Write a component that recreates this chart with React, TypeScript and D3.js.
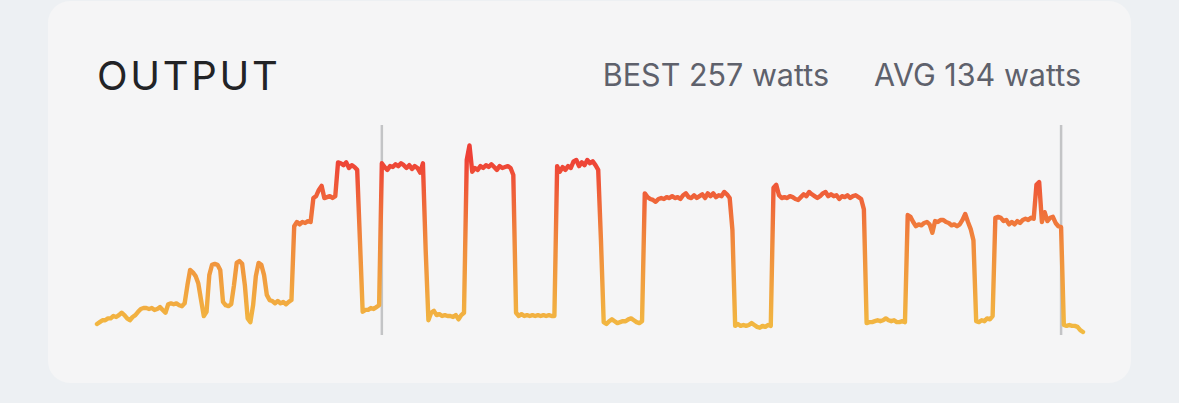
import React from "react";
import * as d3 from "d3";

// Power samples, one every 10 seconds (watts)
const sampleSeconds = 10;
const power: number[] = [
  67, 69, 71, 71, 73, 73, 75.5, 74.5, 76.5, 79,
  76.5, 73, 71, 74.5, 76.5, 80, 83, 84, 84, 83,
  84, 82, 83, 85, 82, 79, 88, 89, 88, 89,
  87, 86, 89, 108, 124.5, 122, 118, 110, 92.5, 75.5,
  80, 119, 130, 131, 130, 124.5, 90.5, 87, 86, 88,
  108, 132, 134, 131, 108, 73, 69, 87, 118, 132,
  130, 119, 98, 92.5, 91.5, 89, 91.5, 89, 90.5, 88,
  90.5, 92.5, 171, 175.5, 173, 175.5, 174.5, 176.5, 175.5, 201,
  203, 209.6, 214, 201, 202, 203, 201, 203, 239, 238,
  236, 239, 233, 236, 234, 231, 156, 80, 82, 82,
  84, 83, 85, 87, 238, 234, 231, 235, 234, 237,
  235, 238, 236, 233, 236, 232, 235, 233, 228, 238,
  146, 71, 79, 81, 76.5, 77.5, 75.5, 76.5, 75.5, 75.5,
  74.5, 76.5, 72, 76.5, 79, 241.5, 257, 229, 233, 231,
  235, 233, 236, 234, 237, 234, 231, 235, 233, 234,
  235, 233, 225.5, 79, 75.5, 77.5, 75.5, 76.5, 75.5, 76.5,
  75.5, 76.5, 75.5, 76.5, 75.5, 76.5, 75.5, 75.5, 235, 229,
  234, 231, 235, 233, 240, 241.5, 235, 239, 236, 241.5,
  238, 240, 236, 231, 156, 69, 67, 70, 72, 70,
  68, 69, 70, 70, 72, 73, 71, 69, 68, 70,
  206, 202, 200, 199, 197, 200, 201, 200, 202, 201,
  203, 201, 202, 200, 204, 206, 202, 201, 204, 201,
  203, 205, 201, 206, 203, 206, 202, 204, 203, 207.5,
  205, 201, 167, 65, 67, 65, 66, 65, 66, 68,
  66, 64, 63, 65, 64, 66, 65, 212, 215, 204,
  201, 202, 201, 203, 202, 200, 199, 202, 205, 203,
  207.5, 205, 203, 201, 203, 206, 207.5, 203, 205, 203,
  204, 200, 203, 202, 204, 201, 203, 204, 202, 200,
  189, 68, 69, 69, 70, 71, 70, 71, 73, 71,
  70, 71, 69, 69, 70, 69, 183, 181, 175.5, 171,
  173, 172, 174.5, 175.5, 173, 164, 176.5, 175.5, 177.7, 177.7,
  175.5, 174.5, 172, 173, 171, 173, 177.7, 184, 175.5, 168,
  156, 70, 69, 71, 70, 73, 72, 75.5, 180, 181,
  180, 176.5, 177.7, 173, 175.5, 173, 176.5, 174.5, 177.7, 179,
  177.7, 180, 179, 215, 218, 175.5, 186, 176.5, 180, 181,
  174.5, 171, 170, 66, 65, 66, 65, 65, 64, 60.5, 58.5,
];

// Selection markers (seconds)
const markers: number[] = [1040, 3520];

const title = "OUTPUT";
const bestLabel = "BEST 257 watts";
const avgLabel = "AVG 134 watts";

const W = 1179;
const H = 403;

export default function App() {
  const data = power.map((w, i) => ({ t: i * sampleSeconds, w }));
  const x = d3
    .scaleLinear()
    .domain([0, (power.length - 1) * sampleSeconds])
    .range([97, 1083]);
  const y = d3.scaleLinear().domain([40, 260]).range([349.4, 142.6]);
  const line = d3
    .line<{ t: number; w: number }>()
    .x((d) => x(d.t))
    .y((d) => y(d.w))
    .curve(d3.curveLinear);

  return (
    <div style={{ position: "fixed", left: 0, top: 0, width: W, height: H }}>
      <svg width={W} height={H} style={{ display: "block" }}>
        <defs>
          <linearGradient
            id="pwrGrad"
            gradientUnits="userSpaceOnUse"
            x1={0}
            y1={y(55)}
            x2={0}
            y2={y(245)}
          >
            <stop offset="0" stopColor="#f2bc42" />
            <stop offset="0.5" stopColor="#f08c3d" />
            <stop offset="1" stopColor="#ee4036" />
          </linearGradient>
        </defs>
        <rect x={0} y={0} width={W} height={H} fill="#edf0f3" />
        <rect x={48} y={1} width={1083} height={382} rx={22} ry={22} fill="#f5f5f6" />
        <text
          x={97}
          y={90}
          fontFamily="Inter, 'Open Sans', sans-serif"
          fontSize={40}
          fontWeight={400}
          letterSpacing={2.7}
          fill="#222326"
        >
          {title}
        </text>
        <text
          x={829}
          y={86}
          textAnchor="end"
          fontFamily="Inter, 'Open Sans', sans-serif"
          fontSize={30.5}
          fill="#5e616c"
        >
          {bestLabel}
        </text>
        <text
          x={1081}
          y={86}
          textAnchor="end"
          fontFamily="Inter, 'Open Sans', sans-serif"
          fontSize={30.5}
          fill="#5e616c"
        >
          {avgLabel}
        </text>
        {markers.map((m, i) => (
          <line
            key={i}
            x1={x(m)}
            x2={x(m)}
            y1={125}
            y2={335}
            stroke="#c3c4c6"
            strokeWidth={2.5}
          />
        ))}
        <path
          d={line(data) || ""}
          fill="none"
          stroke="url(#pwrGrad)"
          strokeWidth={4.4}
          strokeLinejoin="round"
          strokeLinecap="round"
        />
      </svg>
    </div>
  );
}
